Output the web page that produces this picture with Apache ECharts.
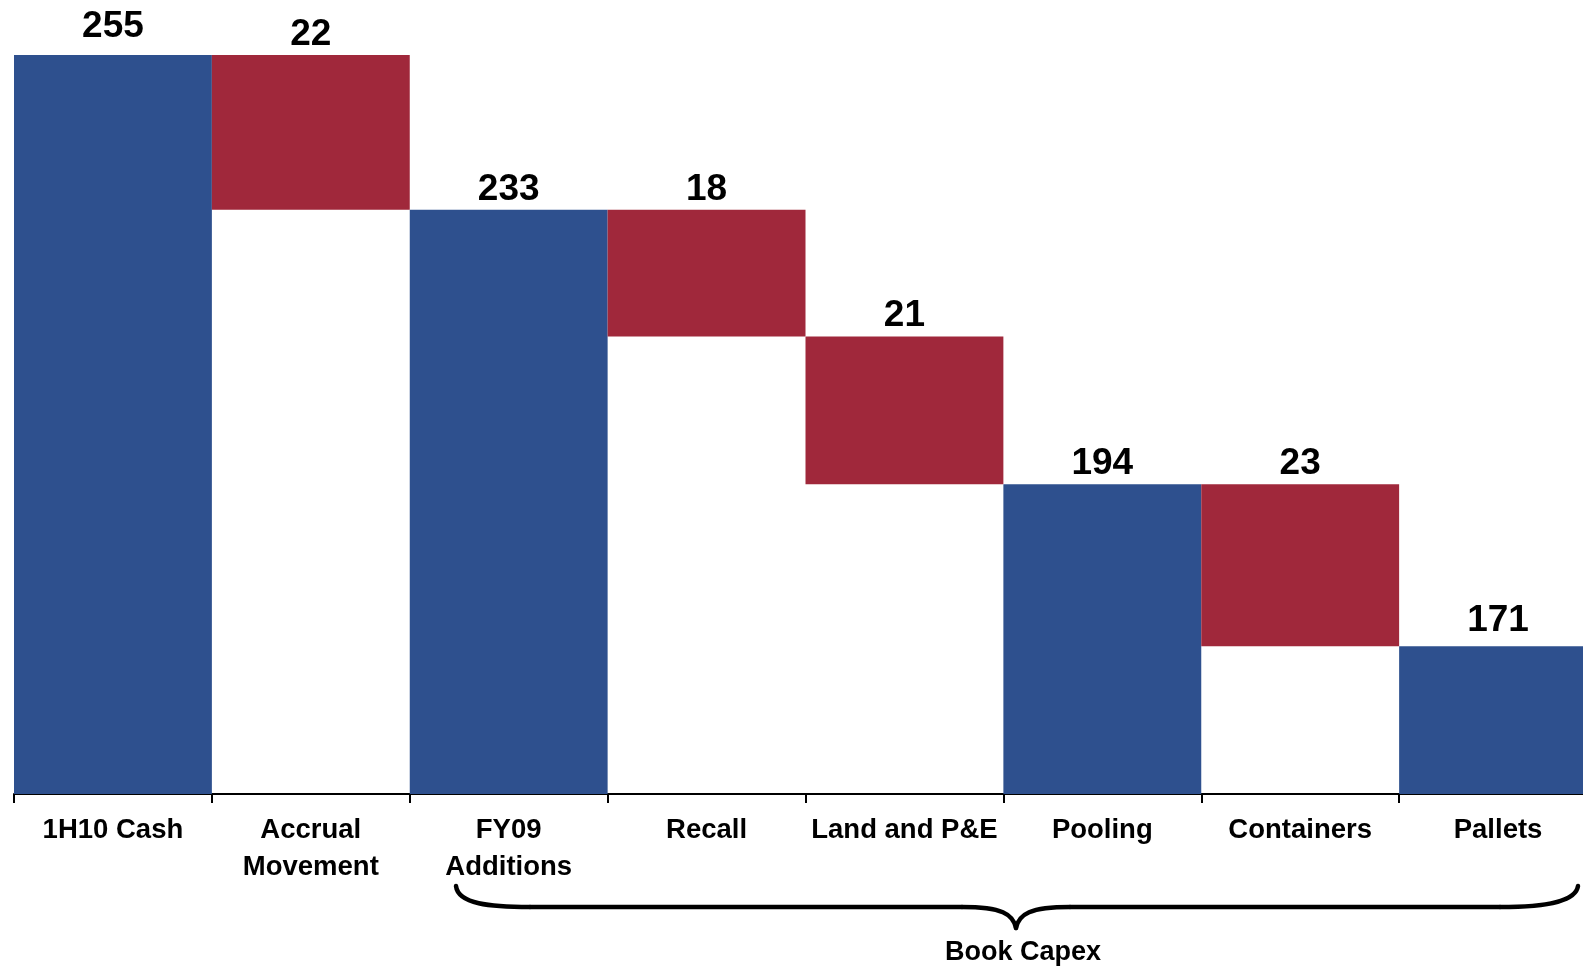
<!DOCTYPE html>
<html>
<head>
<meta charset="utf-8">
<title>Book Capex bridge</title>
<script src="https://cdn.jsdelivr.net/npm/echarts@6/dist/echarts.min.js"></script>
<style>
  html, body { margin: 0; padding: 0; background: #ffffff; }
  #chart { width: 1583px; height: 968px; }
</style>
</head>
<body>
<div id="chart"></div>
<script>
// Bridge categories and their values
const categories = ['1H10 Cash', 'Accrual\nMovement', 'FY09\nAdditions', 'Recall', 'Land and P&E', 'Pooling', 'Containers', 'Pallets'];
const values = [255, 22, 233, 18, 21, 194, 23, 171];
// 'total' bars stand on the axis, 'step' bars hang from the running total
const kinds = ['total', 'step', 'total', 'step', 'step', 'total', 'step', 'total'];
const groupLabel = 'Book Capex';

const BLUE = '#2E508E';
const RED = '#A0283B';
const FONT = '"Liberation Sans", Arial, sans-serif';
// gap between a bar top and its value label (a few labels sit higher)
const LABEL_GAP = 2;
const labelGapOverride = { 0: 10, 7: 7 };

// Invisible base under each step so it floats at the running total
const baseData = [];
const shownData = [];
let running = 0;
values.forEach((v, i) => {
  const item = {
    value: v,
    label: { distance: labelGapOverride[i] !== undefined ? labelGapOverride[i] : LABEL_GAP }
  };
  if (kinds[i] === 'total') {
    running = v;
    baseData.push(0);
    item.itemStyle = { color: BLUE };
  } else {
    running -= v;
    baseData.push(running);
    item.itemStyle = { color: RED };
  }
  shownData.push(item);
});

// Curly brace under the capex categories
const braceStyle = { fill: 'none', stroke: '#000000', lineWidth: 4.5, lineCap: 'round' };
const brace = [
  { type: 'bezierCurve', shape: { x1: 456, y1: 886, cpx1: 458, cpy1: 904, cpx2: 490, cpy2: 907, x2: 530, y2: 907 } },
  { type: 'line', shape: { x1: 530, y1: 907, x2: 962, y2: 907 } },
  { type: 'bezierCurve', shape: { x1: 962, y1: 907, cpx1: 1002, cpy1: 907, cpx2: 1013, cpy2: 914, x2: 1016, y2: 928 } },
  { type: 'bezierCurve', shape: { x1: 1016, y1: 928, cpx1: 1019, cpy1: 914, cpx2: 1030, cpy2: 907, x2: 1070, y2: 907 } },
  { type: 'line', shape: { x1: 1070, y1: 907, x2: 1500, y2: 907 } },
  { type: 'bezierCurve', shape: { x1: 1500, y1: 907, cpx1: 1552, cpy1: 907, cpx2: 1576, cpy2: 900, x2: 1578, y2: 886 } }
].map(el => Object.assign(el, { style: braceStyle, silent: true }));

const chart = echarts.init(document.getElementById('chart'), null, { renderer: 'canvas' });

chart.setOption({
  animation: false,
  backgroundColor: '#ffffff',
  // the last column runs past the right edge of the canvas
  grid: { left: 14, top: 55, bottom: 174, right: -14, outerBoundsMode: 'none', containLabel: false },
  xAxis: {
    type: 'category',
    data: categories,
    axisLine: { show: true, lineStyle: { color: '#000000', width: 2 } },
    axisTick: { show: true, length: 9, lineStyle: { color: '#000000', width: 2 } },
    axisLabel: {
      color: '#000000',
      fontFamily: FONT,
      fontWeight: 'bold',
      fontSize: 27.5,
      lineHeight: 37,
      margin: 18,
      interval: 0
    },
    splitLine: { show: false }
  },
  yAxis: {
    type: 'value',
    min: 150,
    max: 255,
    show: false,
    splitLine: { show: false }
  },
  series: [
    {
      type: 'bar',
      stack: 'bridge',
      data: baseData,
      itemStyle: { color: 'rgba(0,0,0,0)' },
      barWidth: '100%',
      barCategoryGap: 0,
      silent: true
    },
    {
      type: 'bar',
      stack: 'bridge',
      data: shownData,
      barWidth: '100%',
      barCategoryGap: 0,
      label: {
        show: true,
        position: 'top',
        color: '#000000',
        fontFamily: FONT,
        fontWeight: 'bold',
        fontSize: 37
      }
    }
  ],
  graphic: brace.concat([
    {
      type: 'text',
      x: 1023,
      y: 953,
      style: {
        text: groupLabel,
        fill: '#000000',
        font: 'bold 27px ' + FONT,
        textAlign: 'center',
        textVerticalAlign: 'middle'
      }
    }
  ])
});
</script>
</body>
</html>
